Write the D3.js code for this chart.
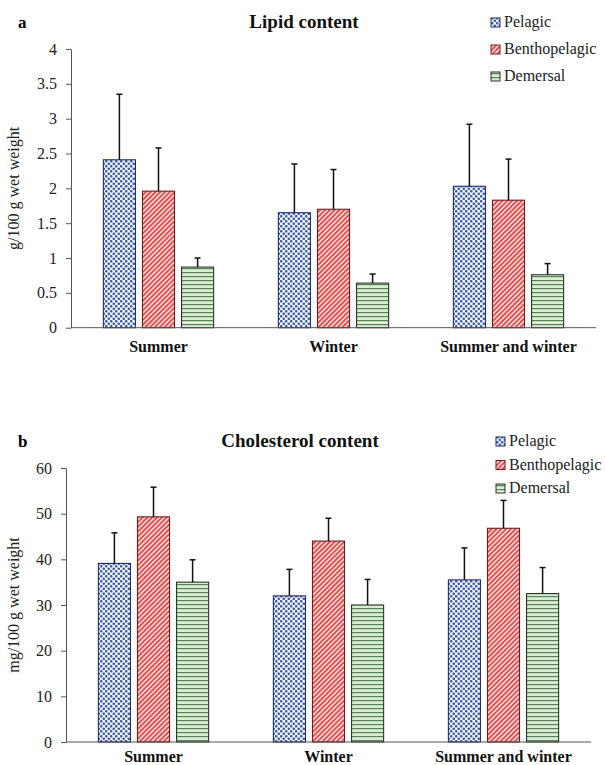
<!DOCTYPE html>
<html>
<head>
<meta charset="utf-8">
<script src="https://cdn.jsdelivr.net/npm/d3@7"></script>
<style>
  body { margin: 0; background: #fff; }
  text { font-family: "Liberation Serif", "Times New Roman", serif; }
</style>
</head>
<body>
<div id="chart"></div>
<script>
// categories and series
var seasons = ["Summer", "Winter", "Summer and winter"];
var habitats = ["Pelagic", "Benthopelagic", "Demersal"];

// panel a: lipid (g/100 g wet weight), mean and upper error bar end
var lipidPelagic = [2.41, 1.65, 2.03];
var lipidBentho = [1.96, 1.70, 1.83];
var lipidDemersal = [0.87, 0.64, 0.76];
var lipidPelagicErr = [3.35, 2.35, 2.92];
var lipidBenthoErr = [2.58, 2.27, 2.42];
var lipidDemersalErr = [1.00, 0.77, 0.92];
var lipidTicks = [0, 0.5, 1, 1.5, 2, 2.5, 3, 3.5, 4];

// panel b: cholesterol (mg/100 g wet weight)
var cholPelagic = [39.1, 32.0, 35.5];
var cholBentho = [49.3, 44.0, 46.8];
var cholDemersal = [35.0, 30.0, 32.5];
var cholPelagicErr = [45.8, 37.8, 42.5];
var cholBenthoErr = [55.8, 49.0, 52.9];
var cholDemersalErr = [39.9, 35.6, 38.2];
var cholTicks = [0, 10, 20, 30, 40, 50, 60];

var w = 605, h = 765;

var svg = d3.select("#chart").append("svg")
    .attr("width", w)
    .attr("height", h);

// fill patterns
var defs = svg.append("defs");

var pDots = defs.append("pattern")
    .attr("id", "pat-pelagic")
    .attr("patternUnits", "userSpaceOnUse")
    .attr("width", 5).attr("height", 5);
pDots.append("rect").attr("width", 5).attr("height", 5).attr("fill", "#f2f5fb");
pDots.append("circle").attr("cx", 1.25).attr("cy", 1.25).attr("r", 1.3).attr("fill", "#3a5aa8");
pDots.append("circle").attr("cx", 3.75).attr("cy", 3.75).attr("r", 1.3).attr("fill", "#3a5aa8");

var pDiag = defs.append("pattern")
    .attr("id", "pat-bentho")
    .attr("patternUnits", "userSpaceOnUse")
    .attr("width", 3.4).attr("height", 3.4)
    .attr("patternTransform", "rotate(45)");
pDiag.append("rect").attr("width", 3.4).attr("height", 3.4).attr("fill", "#fbe4e4");
pDiag.append("rect").attr("width", 1.9).attr("height", 3.4).attr("fill", "#e24c4c");

var pHoriz = defs.append("pattern")
    .attr("id", "pat-demersal")
    .attr("patternUnits", "userSpaceOnUse")
    .attr("width", 4).attr("height", 4);
pHoriz.append("rect").attr("width", 4).attr("height", 4).attr("fill", "#d8f0d2");
pHoriz.append("rect").attr("width", 4).attr("height", 1.2).attr("fill", "#5f7f5f");

var fills = ["url(#pat-pelagic)", "url(#pat-bentho)", "url(#pat-demersal)"];
var borders = ["#1e2d6a", "#6a1e1e", "#253525"];

function drawPanel(opt) {
    var g = svg.append("g");

    var x0 = d3.scaleBand()
        .domain(seasons)
        .range([opt.left, opt.right])
        .paddingInner(0.37)
        .paddingOuter(0.185);

    var x1 = d3.scaleBand()
        .domain(habitats)
        .range([0, x0.bandwidth()])
        .paddingInner(0.18);

    var y = d3.scaleLinear()
        .domain(opt.domain)
        .range([opt.bottom, opt.top]);

    // build rows from arrays
    var rows = [];
    seasons.forEach(function(s, i) {
        habitats.forEach(function(hb, j) {
            rows.push({season: s, habitat: hb, k: j,
                       value: opt.values[j][i], err: opt.errs[j][i]});
        });
    });

    // bars
    g.selectAll("rect.bar")
        .data(rows)
        .enter()
        .append("rect")
        .attr("class", "bar")
        .attr("x", function(d) { return x0(d.season) + x1(d.habitat); })
        .attr("y", function(d) { return y(d.value); })
        .attr("width", x1.bandwidth())
        .attr("height", function(d) { return y(0) - y(d.value); })
        .attr("fill", function(d) { return fills[d.k]; })
        .attr("stroke", function(d) { return borders[d.k]; })
        .attr("stroke-width", 1.1);

    // upper error bars
    var eb = g.selectAll("g.err")
        .data(rows)
        .enter()
        .append("g")
        .attr("class", "err")
        .attr("stroke", "#111")
        .attr("stroke-width", 1.5);
    eb.append("line")
        .attr("x1", function(d) { return x0(d.season) + x1(d.habitat) + x1.bandwidth() / 2; })
        .attr("x2", function(d) { return x0(d.season) + x1(d.habitat) + x1.bandwidth() / 2; })
        .attr("y1", function(d) { return y(d.value); })
        .attr("y2", function(d) { return y(d.err); });
    eb.append("line")
        .attr("x1", function(d) { return x0(d.season) + x1(d.habitat) + x1.bandwidth() / 2 - 3; })
        .attr("x2", function(d) { return x0(d.season) + x1(d.habitat) + x1.bandwidth() / 2 + 3; })
        .attr("y1", function(d) { return y(d.err); })
        .attr("y2", function(d) { return y(d.err); });

    // y axis
    var yAxis = g.append("g")
        .attr("transform", "translate(" + opt.left + ",0)")
        .call(d3.axisLeft(y)
            .tickValues(opt.ticks)
            .tickFormat(d3.format("~g"))
            .tickSize(5)
            .tickPadding(9)
            .tickSizeOuter(0));
    yAxis.select(".domain").attr("stroke", "#555");
    yAxis.selectAll(".tick line").attr("stroke", "#555");
    yAxis.selectAll(".tick text")
        .attr("font-family", "Liberation Serif, serif")
        .attr("font-size", "16px")
        .attr("fill", "#222");

    // x axis line and category labels
    g.append("line")
        .attr("x1", opt.left).attr("x2", opt.right)
        .attr("y1", y(0)).attr("y2", y(0))
        .attr("stroke", "#555").attr("stroke-width", 1);

    g.selectAll("text.cat")
        .data(seasons)
        .enter()
        .append("text")
        .attr("class", "cat")
        .attr("x", function(d) { return x0(d) + x0.bandwidth() / 2; })
        .attr("y", opt.catY)
        .attr("text-anchor", "middle")
        .attr("font-size", "16px")
        .attr("font-weight", "bold")
        .attr("fill", "#111")
        .text(function(d) { return d; });

    // y label
    g.append("text")
        .attr("transform", "translate(" + opt.ylabX + "," + (opt.top + opt.bottom) / 2 + ") rotate(-90)")
        .attr("text-anchor", "middle")
        .attr("font-size", "16px")
        .attr("fill", "#222")
        .text(opt.ylabel);

    // panel letter and title
    g.append("text")
        .attr("x", 18).attr("y", opt.titleY)
        .attr("font-size", "17px").attr("font-weight", "bold")
        .text(opt.letter);
    g.append("text")
        .attr("x", opt.titleX).attr("y", opt.titleY)
        .attr("text-anchor", "middle")
        .attr("font-size", "19px").attr("font-weight", "bold")
        .attr("fill", "#111")
        .text(opt.title);

    // legend
    var lg = g.selectAll("g.leg")
        .data(habitats)
        .enter()
        .append("g")
        .attr("class", "leg")
        .attr("transform", function(d, i) {
            return "translate(" + opt.legX + "," + (opt.legY + i * opt.legStep) + ")";
        });
    lg.append("rect")
        .attr("x", 0).attr("y", -9)
        .attr("width", 9).attr("height", 9)
        .attr("fill", function(d, i) { return fills[i]; })
        .attr("stroke", function(d, i) { return borders[i]; })
        .attr("stroke-width", 1);
    lg.append("text")
        .attr("x", 13).attr("y", 0)
        .attr("font-size", "16px")
        .attr("fill", "#222")
        .text(function(d) { return d; });
}

drawPanel({
    left: 71, right: 596, top: 49, bottom: 327.7,
    domain: [0, 4], ticks: lipidTicks,
    values: [lipidPelagic, lipidBentho, lipidDemersal],
    errs: [lipidPelagicErr, lipidBenthoErr, lipidDemersalErr],
    catY: 352, ylabX: 19, ylabel: "g/100 g wet weight",
    letter: "a", title: "Lipid content", titleX: 304, titleY: 28,
    legX: 491, legY: 27, legStep: 27
});

drawPanel({
    left: 66, right: 591, top: 468, bottom: 742,
    domain: [0, 60], ticks: cholTicks,
    values: [cholPelagic, cholBentho, cholDemersal],
    errs: [cholPelagicErr, cholBenthoErr, cholDemersalErr],
    catY: 762, ylabX: 19, ylabel: "mg/100 g wet weight",
    letter: "b", title: "Cholesterol content", titleX: 300, titleY: 447,
    legX: 496, legY: 446, legStep: 23.5
});
</script>
</body>
</html>
